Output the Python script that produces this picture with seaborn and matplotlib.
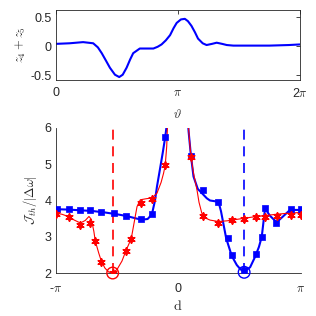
import numpy as np
import pandas as pd
import matplotlib
matplotlib.use("Agg")
import matplotlib.pyplot as plt
import seaborn as sns

# ---------------- data ----------------
# top panel: z4+z5 vs theta
theta = [0, 0.35, 0.7, 0.96, 1.08, 1.18, 1.29, 1.39, 1.52, 1.63, 1.72, 1.82, 1.91, 1.99,
         2.16, 2.35, 2.51, 2.62, 2.72, 2.83, 2.94, 3.03, 3.11, 3.22, 3.32, 3.40, 3.49,
         3.58, 3.66, 3.78, 3.88, 4.02, 4.14, 4.28, 4.40, 4.57, 5.0, 5.5, 6.0, 6.28]
z45 = [0.04, 0.05, 0.07, 0.05, -0.02, -0.12, -0.25, -0.37, -0.49, -0.53, -0.49, -0.37, -0.23, -0.12,
       -0.04, -0.04, -0.04, -0.01, 0.03, 0.10, 0.19, 0.31, 0.40, 0.46, 0.47, 0.43, 0.35,
       0.24, 0.13, 0.05, 0.02, 0.04, 0.06, 0.04, 0.02, 0.01, 0.01, 0.01, 0.02, 0.03]

# bottom panel markers (d in units of pi)
red_d = [-1.0, -0.895, -0.8, -0.718, -0.678, -0.629, -0.536, -0.427, -0.384, -0.305, -0.215, -0.106,
         0.104, 0.199, 0.329, 0.438, 0.539, 0.637, 0.710, 0.805, 0.92, 1.0]
red_J = [3.62, 3.55, 3.32, 3.39, 2.88, 2.31, 2.0, 2.62, 2.95, 3.92, 4.03, 4.98,
         5.21, 3.57, 3.37, 3.46, 3.49, 3.54, 3.55, 3.57, 3.60, 3.60]
blue_d = [-0.99, -0.895, -0.8, -0.718, -0.631, -0.528, -0.424, -0.305, -0.215, -0.106,
          0.104, 0.199, 0.329, 0.403, 0.438, 0.539, 0.637, 0.683, 0.710, 0.800, 0.920, 1.0]
blue_J = [3.77, 3.76, 3.74, 3.74, 3.69, 3.65, 3.57, 3.48, 3.62, 5.76,
          5.23, 4.29, 3.97, 2.97, 2.50, 2.08, 2.52, 2.98, 3.80, 3.39, 3.76, 3.77]

# bottom panel lines (two branches each, d in units of pi)
red_line_left_d = [-1.0, -0.95, -0.9, -0.85, -0.8, -0.76, -0.73, -0.71, -0.69, -0.678, -0.65, -0.629,
                   -0.6, -0.57, -0.536, -0.5, -0.46, -0.427, -0.384, -0.36, -0.337, -0.31, -0.26,
                   -0.215, -0.174, -0.14, -0.12, -0.106, -0.094, -0.085]
red_line_left_J = [3.65, 3.62, 3.56, 3.46, 3.38, 3.45, 3.56, 3.48, 3.15, 2.88, 2.55, 2.33,
                   2.14, 2.03, 2.0, 2.1, 2.33, 2.62, 2.95, 3.4, 3.83, 4.02, 4.05,
                   4.07, 4.2, 4.5, 4.75, 4.98, 5.5, 6.3]
red_line_right_d = [0.075, 0.09, 0.104, 0.125, 0.153, 0.17, 0.193, 0.22, 0.26, 0.33, 0.4, 0.5,
                    0.6, 0.7, 0.8, 0.9, 1.0]
red_line_right_J = [6.4, 5.75, 5.22, 4.75, 4.3, 3.95, 3.65, 3.52, 3.46, 3.42, 3.44, 3.49,
                    3.54, 3.58, 3.62, 3.65, 3.67]
blue_line_left_d = [-1.0, -0.9, -0.8, -0.7, -0.6, -0.5, -0.42, -0.35, -0.3, -0.25, -0.215,
                    -0.19, -0.174, -0.15, -0.125, -0.106, -0.095, -0.083]
blue_line_left_J = [3.76, 3.75, 3.73, 3.71, 3.67, 3.62, 3.57, 3.51, 3.47, 3.49, 3.62,
                    4.0, 4.38, 4.85, 5.35, 5.76, 6.05, 6.4]
blue_line_right_d = [0.075, 0.085, 0.104, 0.125, 0.16, 0.2, 0.234, 0.26, 0.3, 0.329, 0.35, 0.392,
                     0.438, 0.479, 0.51, 0.539, 0.588, 0.629, 0.66, 0.683, 0.71, 0.75, 0.805,
                     0.86, 0.914, 1.0]
blue_line_right_J = [6.4, 5.9, 5.23, 4.66, 4.32, 4.18, 4.06, 4.0, 3.98, 3.97, 3.7, 2.96,
                     2.47, 2.22, 2.1, 2.04, 2.16, 2.45, 2.72, 3.0, 3.78, 3.58, 3.40,
                     3.57, 3.74, 3.74]

# minima (optimal points)
min_d = [-0.536, 0.539]
min_J = [2.0, 2.02]
min_colors = ["#ff0000", "#0000ff"]

# ---------------- style ----------------
sns.set_theme(style="white")
plt.rcParams["font.family"] = ["Liberation Sans", "DejaVu Sans"]
plt.rcParams["mathtext.fontset"] = "cm"
plt.rcParams["axes.edgecolor"] = "#262626"
plt.rcParams["xtick.color"] = "#262626"
plt.rcParams["ytick.color"] = "#262626"
plt.rcParams["xtick.direction"] = "in"
plt.rcParams["ytick.direction"] = "in"

RED = "#ff0000"
BLUE = "#0000ff"
PI = np.pi

fig = plt.figure(figsize=(3.16, 3.16), dpi=100)
ax1 = fig.add_axes([0.177, 0.747, 0.772, 0.221])
ax2 = fig.add_axes([0.177, 0.136, 0.774, 0.459])

# ---------------- top panel ----------------
df_top = pd.DataFrame({"theta": theta, "z": z45})
sns.lineplot(data=df_top, x="theta", y="z", ax=ax1, color=BLUE, lw=1.5, sort=False,
             estimator=None)
ax1.set_xlim(0, 2 * PI)
ax1.set_ylim(-0.58, 0.62)
ax1.set_xticks([0, PI, 2 * PI])
ax1.set_xticklabels(["0", r"$\pi$", r"2$\pi$"])
ax1.set_yticks([-0.5, 0, 0.5])
ax1.set_yticklabels(["-0.5", "0", "0.5"])
ax1.tick_params(axis="both", labelsize=9, length=3, width=0.6, top=True, right=True, pad=3)
ax1.tick_params(axis="x", pad=5)
for s in ax1.spines.values():
    s.set_linewidth(0.6)
    s.set_visible(True)
ax1.set_xlabel(r"$\vartheta$", fontsize=9, labelpad=6)
ax1.set_ylabel(r"$z_4+z_5$", fontsize=9, labelpad=2)

# ---------------- bottom panel ----------------
def branches(ld, lJ, rd, rJ):
    return pd.DataFrame({
        "d": np.array(list(ld) + list(rd)) * PI,
        "J": list(lJ) + list(rJ),
        "branch": [0] * len(ld) + [1] * len(rd),
    })

df_red_line = branches(red_line_left_d, red_line_left_J, red_line_right_d, red_line_right_J)
df_blue_line = branches(blue_line_left_d, blue_line_left_J, blue_line_right_d, blue_line_right_J)
df_red = pd.DataFrame({"d": np.array(red_d) * PI, "J": red_J})
df_blue = pd.DataFrame({"d": np.array(blue_d) * PI, "J": blue_J})

# dashed vertical lines at minima
for md, c in zip(min_d, min_colors):
    ax2.plot([md * PI, md * PI], [2.0, 6.0], color=c, lw=1.2, ls=(0, (6, 4)), zorder=2)

sns.lineplot(data=df_blue_line, x="d", y="J", units="branch", estimator=None, sort=False,
             ax=ax2, color=BLUE, lw=1.5, zorder=3)
sns.lineplot(data=df_red_line, x="d", y="J", units="branch", estimator=None, sort=False,
             ax=ax2, color=RED, lw=0.8, zorder=4)
sns.scatterplot(data=df_blue, x="d", y="J", ax=ax2, marker="s", s=22, color=BLUE,
                edgecolor=BLUE, linewidth=0.5, zorder=5)
sns.scatterplot(data=df_red, x="d", y="J", ax=ax2, marker=(6, 2, 0), s=24, color=RED,
                edgecolor=RED, linewidth=1.3, zorder=6)
sns.scatterplot(data=df_red, x="d", y="J", ax=ax2, marker="o", s=7, color=RED,
                edgecolor=RED, linewidth=0, zorder=6)
df_min = pd.DataFrame({"d": np.array(min_d) * PI, "J": min_J, "c": min_colors})
for i in range(len(df_min)):
    sns.scatterplot(data=df_min.iloc[[i]], x="d", y="J", ax=ax2, marker="o", s=70,
                    facecolor="none", edgecolor=min_colors[i], linewidth=1.0, zorder=7,
                    clip_on=False)

ax2.set_xlim(-PI, PI)
ax2.set_ylim(2, 6)
ax2.set_xticks([-PI, 0, PI])
ax2.set_xticklabels([r"-$\pi$", "0", r"$\pi$"])
ax2.set_yticks([2, 3, 4, 5, 6])
ax2.tick_params(axis="both", labelsize=9, length=3, width=0.6, pad=3)
ax2.tick_params(axis="x", pad=7)
for k in ["top", "right"]:
    ax2.spines[k].set_visible(False)
for k in ["left", "bottom"]:
    ax2.spines[k].set_linewidth(0.6)
ax2.set_xlabel(r"$\mathrm{d}$", fontsize=10, labelpad=3)
ax2.set_ylabel(r"$\mathcal{J}_{th}/|\Delta\omega|$", fontsize=9, labelpad=4)

fig.savefig("out.png", dpi=100)
